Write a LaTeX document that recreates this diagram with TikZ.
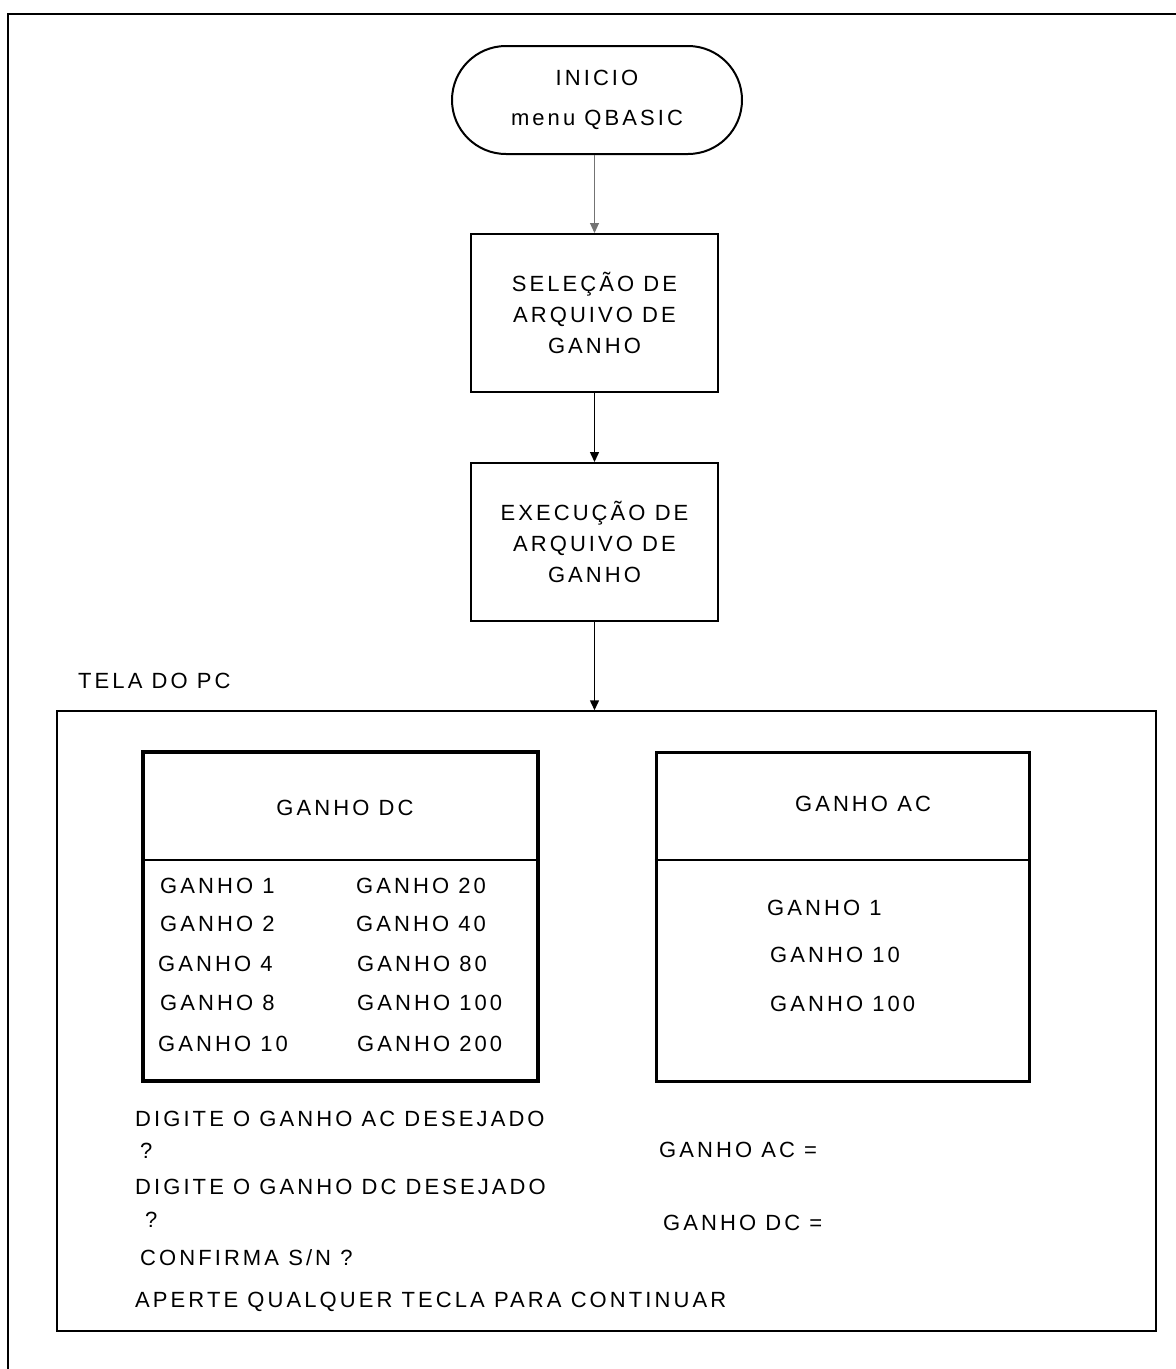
\documentclass[tikz,border=0pt]{standalone}
\usepackage{fontspec}
\setmainfont{Liberation Sans}[LetterSpace=14]
\usetikzlibrary{shapes.misc,arrows.meta}
\tikzset{
  txt/.style={font=\fontsize{22}{31}\selectfont, inner sep=0pt},
  lt/.style={txt, anchor=west},
  procbox/.style={draw, line width=2pt, minimum width=247pt, minimum height=158pt, align=center, txt},
  panel/.style={draw, line width=3.5pt, inner sep=0pt},
  conn/.style={line width=1.5pt, -{Triangle[length=10pt,width=9pt]}},
}
\begin{document}
\begin{tikzpicture}[x=1pt,y=-1pt]
\useasboundingbox (0,0) rectangle (1176,1369);
% outer frame (scanned page border)
\draw[line width=2pt] (8,1369) -- (8,14) -- (1176,14);

% flow
\node[txt, draw, line width=2pt, rounded rectangle, minimum width=290pt, minimum height=108pt, align=center] (start) at (597,100) {INICIO\\[9pt]menu QBASIC};
\node[procbox] (sel) at (594.5,313) {SELEÇÃO DE\\ARQUIVO DE\\GANHO};
\node[procbox] (exec) at (594.5,542) {EXECUÇÃO DE\\ARQUIVO DE\\GANHO};

\node[lt] (tela) at (78,681) {TELA DO PC};
\node[draw, line width=1.5pt, inner sep=0pt, minimum width=1099pt, minimum height=620pt] (screen) at (606.5,1021) {};

\draw[conn, line width=1pt, black!55] (start.south -| sel.north) -- (sel.north);
\draw[conn] (sel.south) -- (exec.north);
\draw[conn] (exec.south) -- (exec.south |- screen.north);

% DC panel
\node[panel, minimum width=395pt, minimum height=329pt] (dc) at (340.5,916.5) {};
\draw[line width=2.5pt] (dc.west |- 0,860) -- (dc.east |- 0,860);
\node[txt] (dct) at (345,808) {GANHO DC};
\node[lt] (d1) at (160,886) {GANHO 1};
\node[lt] (d2) at (160,924) {GANHO 2};
\node[lt] (d4) at (158,964) {GANHO 4};
\node[lt] (d8) at (160,1003) {GANHO 8};
\node[lt] (d10) at (158,1044) {GANHO 10};
\node[lt] (d20) at (356,886) {GANHO 20};
\node[lt] (d40) at (356,924) {GANHO 40};
\node[lt] (d80) at (357,964) {GANHO 80};
\node[lt] (d100) at (357,1003) {GANHO 100};
\node[lt] (d200) at (357,1044) {GANHO 200};

% AC panel
\node[panel, line width=3pt, minimum width=373pt, minimum height=329pt] (ac) at (842.5,916.5) {};
\draw[line width=2.5pt] (ac.west |- 0,860) -- (ac.east |- 0,860);
\node[txt] (act) at (863,804) {GANHO AC};
\node[lt] (a1) at (767,908) {GANHO 1};
\node[lt] (a10) at (770,955) {GANHO 10};
\node[lt] (a100) at (770,1004) {GANHO 100};

% prompts
\node[lt] (p1) at (135,1119) {DIGITE O GANHO AC DESEJADO};
\node[lt] (q1) at (140,1151) {?};
\node[lt] (p2) at (135,1187) {DIGITE O GANHO DC DESEJADO};
\node[lt] (q2) at (145,1220) {?};
\node[lt] (p3) at (140,1258) {CONFIRMA S/N ?};
\node[lt] (p4) at (135,1302) {APERTE QUALQUER TECLA PARA CONTINUAR};
\node[lt] (gac) at (659,1150) {GANHO AC =};
\node[lt] (gdc) at (663,1223) {GANHO DC =};
\end{tikzpicture}
\end{document}
